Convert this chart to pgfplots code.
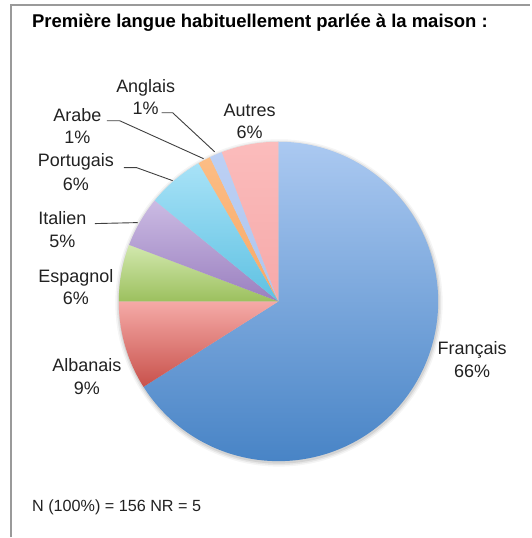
\documentclass[border=0pt]{standalone}
\usepackage{pgfplots}
\pgfplotsset{compat=1.18}
\usepackage{fontspec}
\setmainfont{Liberation Sans}

% counts (N = 156)
\def\nFr{103}\def\nAlb{14}\def\nEsp{9}\def\nIta{8}\def\nPor{9}\def\nAra{2}\def\nAng{2}\def\nAut{9}
\def\nTot{156}

\definecolor{frT}{HTML}{ABC9F1}\definecolor{frB}{HTML}{4884C6}
\definecolor{alT}{HTML}{F5AAA7}\definecolor{alB}{HTML}{C8514B}
\definecolor{esT}{HTML}{D2E8AE}\definecolor{esB}{HTML}{9CC05E}
\definecolor{itT}{HTML}{CBBBE3}\definecolor{itB}{HTML}{9A7FBF}
\definecolor{poT}{HTML}{A8E2F7}\definecolor{poB}{HTML}{5EC1E2}
\definecolor{arT}{HTML}{FCBD85}\definecolor{arB}{HTML}{F8A866}
\definecolor{anT}{HTML}{BCD0F4}\definecolor{anB}{HTML}{AEC5EE}
\definecolor{auT}{HTML}{FBBCBC}\definecolor{auB}{HTML}{F6A9A9}
\definecolor{txt}{HTML}{222222}
\definecolor{frame}{HTML}{9A9A9A}

\newcommand{\lab}[3]{\node[anchor=base, text=txt, font=\fontsize{18}{21}\selectfont, inner sep=0pt] at (axis cs:#1,#2) {#3};}

\begin{document}
\begin{tikzpicture}
\begin{axis}[width=531pt, height=538pt, scale only axis,
  xmin=0, xmax=531, ymin=0, ymax=538, y dir=reverse,
  axis lines=none, clip=false]

\pgfmathsetmacro{\aA}{90}
\pgfmathsetmacro{\aB}{\aA-\nFr/\nTot*360}
\pgfmathsetmacro{\aC}{\aB-\nAlb/\nTot*360}
\pgfmathsetmacro{\aD}{\aC-\nEsp/\nTot*360}
\pgfmathsetmacro{\aE}{\aD-\nIta/\nTot*360}
\pgfmathsetmacro{\aF}{\aE-\nPor/\nTot*360}
\pgfmathsetmacro{\aG}{\aF-\nAra/\nTot*360}
\pgfmathsetmacro{\aH}{\aG-\nAng/\nTot*360}
\pgfmathsetmacro{\aI}{\aH-\nAut/\nTot*360}

% full canvas (bounding box)
\fill[white] (axis cs:0,0) rectangle (axis cs:531,538);

% frame
\draw[frame, line width=2pt] (axis cs:11,538) -- (axis cs:11,5) -- (axis cs:531,5);

% soft shadow
\addplot[draw=none, fill=black, fill opacity=0.04, domain=0:360, samples=150, variable=\t] ({279.5+164*cos(\t)},{303.5-164*sin(\t)}) -- cycle;
\addplot[draw=none, fill=black, fill opacity=0.06, domain=0:360, samples=150, variable=\t] ({279.5+162.5*cos(\t)},{303.5-162.5*sin(\t)}) -- cycle;
\addplot[draw=none, fill=black, fill opacity=0.08, domain=0:360, samples=150, variable=\t] ({279.5+161*cos(\t)},{303.5-161*sin(\t)}) -- cycle;

% wedges (clockwise from top)
\addplot[draw=none, top color=frT, bottom color=frB, domain=\aB:\aA, samples=200, variable=\t] ({279+160*cos(\t)},{302-160*sin(\t)}) -- (axis cs:279,302) -- cycle;
\addplot[draw=none, top color=alT, bottom color=alB, domain=\aC:\aB, samples=40, variable=\t] ({279+160*cos(\t)},{302-160*sin(\t)}) -- (axis cs:279,302) -- cycle;
\addplot[draw=none, top color=esT, bottom color=esB, domain=\aD:\aC, samples=30, variable=\t] ({279+160*cos(\t)},{302-160*sin(\t)}) -- (axis cs:279,302) -- cycle;
\addplot[draw=none, top color=itT, bottom color=itB, domain=\aE:\aD, samples=30, variable=\t] ({279+160*cos(\t)},{302-160*sin(\t)}) -- (axis cs:279,302) -- cycle;
\addplot[draw=none, top color=poT, bottom color=poB, domain=\aF:\aE, samples=30, variable=\t] ({279+160*cos(\t)},{302-160*sin(\t)}) -- (axis cs:279,302) -- cycle;
\addplot[draw=none, top color=arT, bottom color=arB, domain=\aG:\aF, samples=10, variable=\t] ({279+160*cos(\t)},{302-160*sin(\t)}) -- (axis cs:279,302) -- cycle;
\addplot[draw=none, top color=anT, bottom color=anB, domain=\aH:\aG, samples=10, variable=\t] ({279+160*cos(\t)},{302-160*sin(\t)}) -- (axis cs:279,302) -- cycle;
\addplot[draw=none, top color=auT, bottom color=auB, domain=\aI:\aH, samples=30, variable=\t] ({279+160*cos(\t)},{302-160*sin(\t)}) -- (axis cs:279,302) -- cycle;

% leader lines
\draw[black!75, line width=0.9pt] (axis cs:162,113) -- (axis cs:173,113) -- (axis cs:215,152);
\draw[black!75, line width=0.9pt] (axis cs:107,121) -- (axis cs:120,121) -- (axis cs:204,159);
\draw[black!75, line width=0.9pt] (axis cs:124,168) -- (axis cs:137,168) -- (axis cs:173,181);
\draw[black!75, line width=0.9pt] (axis cs:95,224) -- (axis cs:138,223);

% labels
\lab{146}{92.7}{Anglais}\lab{146}{115}{1\%}
\lab{77.5}{121.7}{Arabe}\lab{77.5}{144}{1\%}
\lab{250}{116.7}{Autres}\lab{250}{138.5}{6\%}
\lab{76}{166.7}{Portugais}\lab{76}{190.5}{6\%}
\lab{62.5}{225}{Italien}\lab{62.5}{248}{5\%}
\lab{76}{282.7}{Espagnol}\lab{76}{305}{6\%}
\lab{87}{372.3}{Albanais}\lab{87}{395}{9\%}
\lab{473}{355}{Français}\lab{473}{377.7}{66\%}

% title and note
\node[anchor=base west, inner sep=0pt, text=black, font=\fontsize{18.5}{22}\selectfont\bfseries] at (axis cs:32,27.7) {Première langue habituellement parlée à la maison :};
\node[anchor=base west, inner sep=0pt, text=txt, font=\fontsize{16.2}{19}\selectfont] at (axis cs:32,512.3) {N (100\%) = 156 NR = 5};
\end{axis}
\end{tikzpicture}
\end{document}
